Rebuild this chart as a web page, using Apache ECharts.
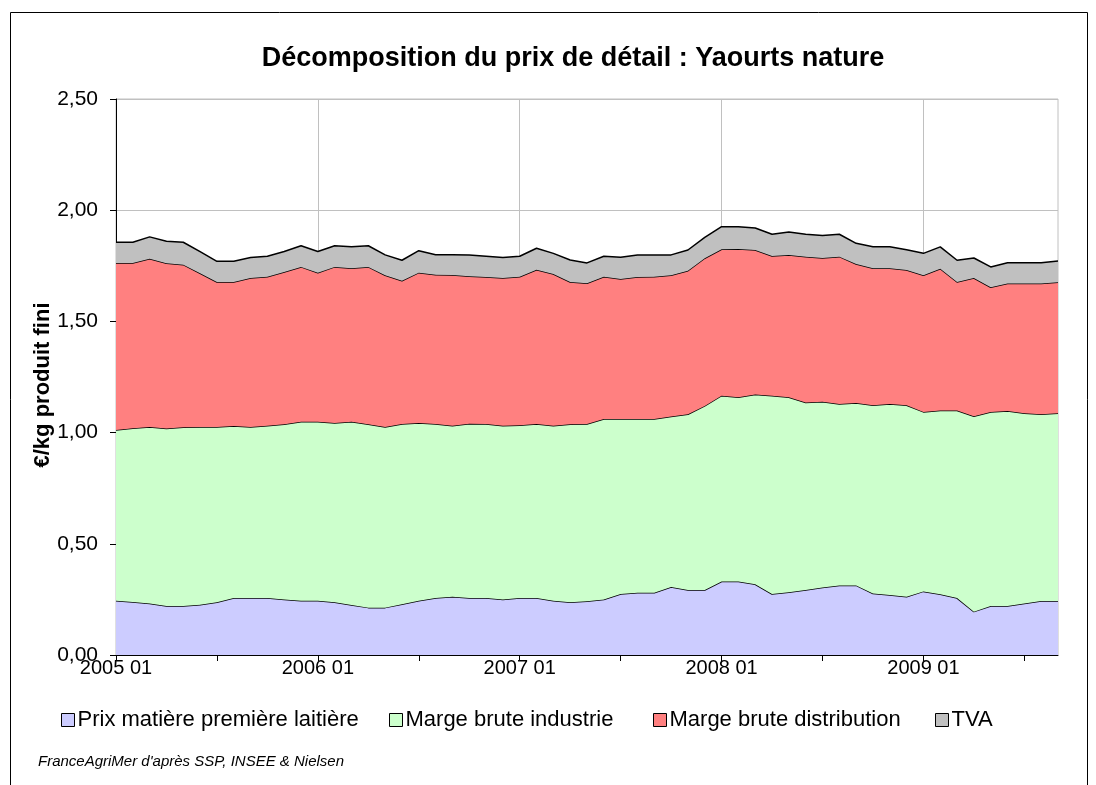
<!DOCTYPE html>
<html>
<head>
<meta charset="utf-8">
<script src="https://cdn.jsdelivr.net/npm/echarts@6/dist/echarts.min.js"></script>
<style>
  html, body { margin: 0; padding: 0; background: #fff; }
  #chart { width: 1096px; height: 785px; }
</style>
</head>
<body>
<div id="chart"></div>
<script>
// mois (2005 01 -> 2009 09)
const years = ['2005', '2006', '2007', '2008', '2009']
const months = ['01', '02', '03', '04', '05', '06', '07', '08', '09', '10', '11', '12']
const nbMois = 57
const categories = []
years.forEach(y => months.forEach(m => categories.push(y + ' ' + m)))
categories.length = nbMois

// €/kg produit fini
const prixMatiere = [0.244,0.238,0.232,0.220,0.220,0.226,0.237,0.256,0.256,0.256,0.249,0.244,
  0.244,0.237,0.225,0.213,0.213,0.228,0.244,0.256,0.262,0.256,0.256,0.250,
  0.256,0.256,0.244,0.237,0.242,0.249,0.274,0.280,0.280,0.306,0.292,0.292,
  0.330,0.330,0.318,0.274,0.282,0.292,0.303,0.312,0.313,0.276,0.270,0.262,
  0.286,0.273,0.256,0.195,0.220,0.220,0.232,0.243,0.243]
const margeIndustrie = [0.768,0.781,0.793,0.798,0.804,0.799,0.788,0.774,0.769,0.775,0.788,0.805,
  0.805,0.806,0.824,0.824,0.812,0.811,0.799,0.783,0.769,0.784,0.783,0.781,
  0.777,0.783,0.787,0.800,0.797,0.812,0.787,0.781,0.781,0.766,0.790,0.828,
  0.836,0.829,0.853,0.892,0.877,0.843,0.836,0.817,0.820,0.847,0.859,0.861,
  0.807,0.826,0.843,0.878,0.873,0.877,0.855,0.839,0.844]
const margeDistribution = [0.751,0.744,0.757,0.743,0.731,0.691,0.652,0.647,0.670,0.670,0.685,0.696,
  0.670,0.702,0.690,0.708,0.682,0.644,0.676,0.671,0.678,0.663,0.661,0.664,
  0.668,0.693,0.682,0.640,0.632,0.640,0.630,0.639,0.640,0.635,0.646,0.664,
  0.658,0.667,0.650,0.628,0.640,0.656,0.646,0.662,0.625,0.616,0.610,0.608,
  0.614,0.638,0.578,0.622,0.560,0.573,0.583,0.588,0.589]
const tva = [0.093,0.093,0.098,0.099,0.101,0.098,0.093,0.093,0.092,0.092,0.092,0.095,
  0.095,0.095,0.097,0.095,0.092,0.092,0.099,0.090,0.091,0.096,0.093,0.092,
  0.092,0.097,0.093,0.099,0.092,0.092,0.097,0.099,0.098,0.092,0.093,0.094,
  0.102,0.100,0.099,0.098,0.103,0.101,0.101,0.101,0.093,0.097,0.097,0.091,
  0.099,0.098,0.098,0.090,0.092,0.094,0.094,0.094,0.096]

const seriesNames = ['Prix matière première laitière', 'Marge brute industrie', 'Marge brute distribution', 'TVA']
const seriesData = [prixMatiere, margeIndustrie, margeDistribution, tva]
const colors = ['#CCCCFF', '#CCFFCC', '#FF8080', '#C0C0C0']
const legendLeft = [61, 389, 653, 935]

const font = '"Liberation Sans", Arial, sans-serif'

const chart = echarts.init(document.getElementById('chart'))

const option = {
  animation: false,
  textStyle: { fontFamily: font },
  grid: {
    left: 116,
    right: 38,
    top: 99,
    bottom: 130,
    show: true,
    borderColor: '#C0C0C0',
    borderWidth: 1
  },
  legend: seriesNames.map((n, i) => ({
    data: [n],
    left: legendLeft[i],
    top: 709,
    padding: 0,
    icon: 'rect',
    itemWidth: 13,
    itemHeight: 13,
    itemStyle: { borderColor: '#000', borderWidth: 1 },
    textStyle: { fontSize: 22, color: '#000', fontFamily: font, padding: [0, 0, 0, -2] },
    selectedMode: false
  })),
  xAxis: {
    type: 'category',
    data: categories,
    boundaryGap: false,
    axisLine: { lineStyle: { color: '#000', width: 1 } },
    axisTick: { interval: 5, length: 6, lineStyle: { color: '#000' } },
    axisLabel: { interval: 11, color: '#000', fontSize: 20, margin: 3, fontFamily: font },
    splitLine: { show: true, interval: 11, lineStyle: { color: '#C0C0C0', width: 1 } }
  },
  yAxis: {
    type: 'value',
    min: 0,
    max: 2.5,
    interval: 0.5,
    axisLine: { show: true, lineStyle: { color: '#000', width: 1 } },
    axisTick: { show: true, length: 6, lineStyle: { color: '#000' } },
    axisLabel: {
      color: '#000',
      fontSize: 21,
      margin: 18,
      fontFamily: font,
      formatter: v => v.toFixed(2).replace('.', ',')
    },
    splitLine: { lineStyle: { color: '#C0C0C0', width: 1 } }
  },
  graphic: [
    {
      type: 'rect',
      shape: { x: 10.5, y: 12.5, width: 1077, height: 800 },
      style: { fill: 'none', stroke: '#000', lineWidth: 1 },
      silent: true
    },
    {
      type: 'text',
      x: 573,
      y: 59,
      style: {
        text: 'Décomposition du prix de détail : Yaourts nature',
        font: 'bold 27px ' + font,
        fill: '#000',
        textAlign: 'center',
        textVerticalAlign: 'middle'
      }
    },
    {
      type: 'text',
      x: 43,
      y: 385,
      rotation: Math.PI / 2,
      style: {
        text: '€/kg produit fini',
        font: 'bold 22px ' + font,
        fill: '#000',
        textAlign: 'center',
        textVerticalAlign: 'middle'
      }
    },
    {
      type: 'text',
      left: 38,
      top: 754,
      style: {
        text: "FranceAgriMer d'après SSP, INSEE & Nielsen",
        font: 'italic 15px ' + font,
        fill: '#000'
      }
    }
  ],
  series: seriesNames.map((n, i) => ({
    name: n,
    type: 'line',
    stack: 'total',
    data: seriesData[i],
    showSymbol: false,
    symbol: 'none',
    itemStyle: { color: colors[i] },
    lineStyle: { color: '#000', width: 1.5 },
    areaStyle: { color: colors[i], opacity: 1 },
    z: 2 + i
  }))
}

chart.setOption(option)
</script>
</body>
</html>
